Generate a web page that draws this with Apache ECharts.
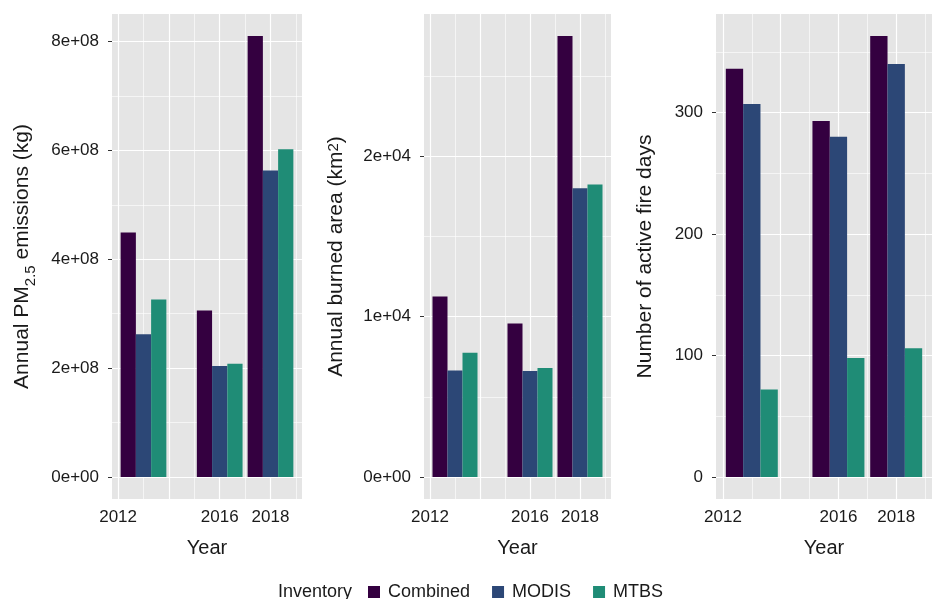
<!DOCTYPE html>
<html>
<head>
<meta charset="utf-8">
<script src="https://cdn.jsdelivr.net/npm/echarts@6/dist/echarts.min.js"></script>
<style>
html,body{margin:0;padding:0;background:#fff;}
#chart{width:933px;height:599px;}
</style>
</head>
<body>
<div id="chart"></div>
<script>
// ---- data ----
const years = [2013, 2016, 2018];
const inventories = ['Combined', 'MODIS', 'MTBS'];
const xTicks = [2012, 2014, 2016, 2018];
const xTickLabels = [2012, 2016, 2018];
const xMinor = [2013, 2015, 2017, 2019];

const pm25Combined = [4.49e8, 3.06e8, 8.10e8];
const pm25Modis = [2.62e8, 2.04e8, 5.63e8];
const pm25Mtbs = [3.26e8, 2.08e8, 6.02e8];

const areaCombined = [11260, 9570, 27500];
const areaModis = [6640, 6610, 18000];
const areaMtbs = [7740, 6790, 18240];

const daysCombined = [336, 293, 363];
const daysModis = [307, 280, 340];
const daysMtbs = [72, 98, 106];

const pmTicks = [0, 2e8, 4e8, 6e8, 8e8];
const pmMinor = [1e8, 3e8, 5e8, 7e8];
const areaTicks = [0, 1e4, 2e4];
const areaMinor = [5e3, 1.5e4, 2.5e4];
const daysTicks = [0, 100, 200, 300];
const daysMinor = [50, 150, 250, 350];

const colors = ['#340040', '#2C4776', '#1F8C76'];
const bg = '#E5E5E5';
const textColor = '#1a1a1a';
const fontFamily = 'Liberation Sans, Arial, Helvetica, sans-serif';

// ---- layout helpers ----
const barW = 0.6;              // dodge width per bar (0.9 * resolution / 3)
const groupHalf = barW * 1.5;
const xLo = years[0] - groupHalf, xHi = years[years.length - 1] + groupHalf;
const xPad = (xHi - xLo) * 0.05;
const xMin = xLo - xPad, xMax = xHi + xPad;

function sci(v) {
  if (v === 0) return '0e+00';
  const e = Math.floor(Math.log10(Math.abs(v)) + 1e-9);
  const m = Math.round(v / Math.pow(10, e));
  return m + 'e' + (e >= 0 ? '+' : '-') + String(Math.abs(e)).padStart(2, '0');
}

const panels = [
  { left: 112, width: 190, series: [pm25Combined, pm25Modis, pm25Mtbs], ticks: pmTicks, minor: pmMinor, fmt: sci,
    name: '{a|Annual PM}{sub|2.5}{a| emissions (kg)}', gap: 77 },
  { left: 424, width: 187, series: [areaCombined, areaModis, areaMtbs], ticks: areaTicks, minor: areaMinor, fmt: sci,
    name: '{a|Annual burned area (km}{sup|2}{a|)}', gap: 75 },
  { left: 716, width: 216, series: [daysCombined, daysModis, daysMtbs], ticks: daysTicks, minor: daysMinor, fmt: v => String(v),
    name: '{a|Number of active fire days}', gap: 58 }
];

const grid = [], xAxis = [], yAxis = [], series = [];
const richName = {
  a: { fontSize: 21, color: textColor, fontFamily: fontFamily, verticalAlign: 'top', lineHeight: 23 },
  sub: { fontSize: 15, color: textColor, fontFamily: fontFamily, verticalAlign: 'top', lineHeight: 15, padding: [11, 0, 0, 0] },
  sup: { fontSize: 15, color: textColor, fontFamily: fontFamily, verticalAlign: 'top', lineHeight: 15, padding: [0, 0, 0, 0] }
};

panels.forEach((p, k) => {
  let yMaxData = 0;
  p.series.forEach(s => s.forEach(v => { if (v > yMaxData) yMaxData = v; }));
  const yPad = yMaxData * 0.05;
  grid.push({ left: p.left, width: p.width, top: 14, height: 485, show: true, backgroundColor: bg, borderWidth: 0 });
  xAxis.push({
    type: 'value', gridIndex: k, min: xMin, max: xMax,
    name: 'Year', nameLocation: 'middle', nameGap: 39,
    nameTextStyle: { fontSize: 20, color: textColor, fontFamily: fontFamily },
    axisLine: { show: false },
    axisTick: { show: true, length: 4, lineStyle: { color: '#333', width: 1 }, customValues: xTicks },
    axisLabel: { show: true, fontSize: 17, color: textColor, fontFamily: fontFamily, margin: 10, customValues: xTickLabels,
      formatter: v => String(v) },
    splitLine: { show: false }, minorSplitLine: { show: false }
  });
  yAxis.push({
    type: 'value', gridIndex: k, min: -yPad, max: yMaxData + yPad,
    name: p.name, nameLocation: 'middle', nameGap: p.gap,
    nameTextStyle: { rich: richName, fontSize: 21, color: textColor, fontFamily: fontFamily },
    axisLine: { show: false },
    axisTick: { show: true, length: 4, lineStyle: { color: '#333', width: 1 }, customValues: p.ticks },
    axisLabel: { show: true, fontSize: 17, color: textColor, fontFamily: fontFamily, margin: 13, customValues: p.ticks,
      formatter: v => p.fmt(v) },
    splitLine: { show: false }, minorSplitLine: { show: false }
  });
  // gridlines
  const gl = [];
  xTicks.forEach(v => gl.push({ xAxis: v, lineStyle: { width: 1.2 } }));
  xMinor.forEach(v => { if (v < xMax) gl.push({ xAxis: v, lineStyle: { width: 0.6 } }); });
  p.ticks.forEach(v => gl.push({ yAxis: v, lineStyle: { width: 1.2 } }));
  p.minor.forEach(v => gl.push({ yAxis: v, lineStyle: { width: 0.6 } }));
  series.push({
    type: 'line', name: 'grid' + k, xAxisIndex: k, yAxisIndex: k, data: [], z: 1, silent: true,
    markLine: { silent: true, z: 1, symbol: ['none', 'none'], animation: false, label: { show: false },
      lineStyle: { color: '#ffffff', type: 'solid' }, data: gl, emphasis: { disabled: true } }
  });
  // bars
  p.series.forEach((vals, j) => {
    const off = (j - 1) * barW;
    series.push({
      type: 'custom', name: inventories[j], xAxisIndex: k, yAxisIndex: k, z: 10,
      itemStyle: { color: colors[j] },
      data: years.map((yr, i) => [yr + off, vals[i]]),
      renderItem: function (params, api) {
        const x = api.value(0), y = api.value(1);
        const a = api.coord([x - barW / 2, 0]);
        const b = api.coord([x + barW / 2, y]);
        return { type: 'rect', shape: { x: a[0], y: b[1], width: b[0] - a[0], height: a[1] - b[1] },
          style: { fill: colors[j] } };
      }
    });
  });
});

const chart = echarts.init(document.getElementById('chart'), null, { renderer: 'canvas' });
chart.setOption({
  animation: false,
  backgroundColor: '#ffffff',
  title: { text: 'Inventory', left: 278, top: 583, padding: 0,
    textStyle: { fontSize: 18, fontWeight: 'normal', color: textColor, fontFamily: fontFamily } },
  legend: {
    data: inventories, left: 368, top: 583, padding: 0, itemGap: 22,
    itemWidth: 18, itemHeight: 12, symbolKeepAspect: true,
    icon: 'path://M0,0h10v10h-10z',
    textStyle: { fontSize: 18, color: textColor, fontFamily: fontFamily },
    selectedMode: false
  },
  grid: grid, xAxis: xAxis, yAxis: yAxis, series: series
});
</script>
</body>
</html>
